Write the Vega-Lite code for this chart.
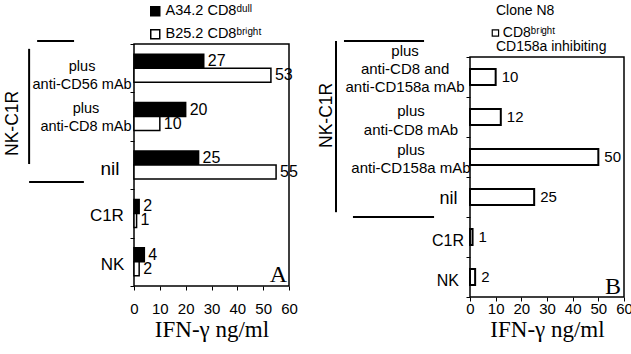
{
  "$schema": "https://vega.github.io/schema/vega-lite/v6.json",
  "background": "white",
  "padding": {"left": 2, "top": 3, "right": 0, "bottom": 0},
  "spacing": 19,
  "config": {
    "font": "Liberation Sans",
    "view": {"stroke": "black", "strokeWidth": 1.5},
    "axis": {"domain": false, "grid": false, "tickColor": "black", "labelColor": "black", "titleColor": "black", "labelFont": "Liberation Sans"},
    "text": {"color": "black", "font": "Liberation Sans"}
  },
  "datasets": {
    "a": [
      {"cond": "plus\nanti-CD56 mAb", "line": "A34.2 CD8ᵈᵘˡˡ", "ifng": 27},
      {"cond": "plus\nanti-CD56 mAb", "line": "B25.2 CD8ᵇʳⁱᵍʰᵗ", "ifng": 53},
      {"cond": "plus\nanti-CD8 mAb", "line": "A34.2 CD8ᵈᵘˡˡ", "ifng": 20},
      {"cond": "plus\nanti-CD8 mAb", "line": "B25.2 CD8ᵇʳⁱᵍʰᵗ", "ifng": 10},
      {"cond": "nil", "line": "A34.2 CD8ᵈᵘˡˡ", "ifng": 25},
      {"cond": "nil", "line": "B25.2 CD8ᵇʳⁱᵍʰᵗ", "ifng": 55},
      {"cond": "C1R", "line": "A34.2 CD8ᵈᵘˡˡ", "ifng": 2},
      {"cond": "C1R", "line": "B25.2 CD8ᵇʳⁱᵍʰᵗ", "ifng": 1},
      {"cond": "NK", "line": "A34.2 CD8ᵈᵘˡˡ", "ifng": 4},
      {"cond": "NK", "line": "B25.2 CD8ᵇʳⁱᵍʰᵗ", "ifng": 2}
    ],
    "b": [
      {"cond": "plus\nanti-CD8 and\nanti-CD158a mAb", "ifng": 10},
      {"cond": "plus\nanti-CD8 mAb", "ifng": 12},
      {"cond": "plus\nanti-CD158a mAb", "ifng": 50},
      {"cond": "nil", "ifng": 25},
      {"cond": "C1R", "ifng": 1},
      {"cond": "NK", "ifng": 2}
    ]
  },
  "hconcat": [
    {
      "width": 155,
      "height": 242,
      "resolve": {"scale": {"y": "independent", "x": "independent"}},
      "layer": [
        {
          "data": {"name": "a"},
          "encoding": {
            "y": {
              "field": "cond", "type": "nominal",
              "sort": ["plus\nanti-CD56 mAb", "plus\nanti-CD8 mAb", "nil", "C1R", "NK"],
              "scale": {"paddingInner": 0, "paddingOuter": 0},
              "axis": {"title": null, "tickBand": "extent", "tickSize": 4, "labels": false}
            },
            "x": {
              "field": "ifng", "type": "quantitative",
              "scale": {"domain": [0, 60]},
              "axis": {"values": [0, 10, 20, 30, 40, 50, 60], "tickSize": 4, "labelFontSize": 15, "labelPadding": 11, "labelFlush": false, "labelOverlap": false,
                       "title": "IFN-γ ng/ml", "titleFont": "Liberation Serif", "titleFontSize": 23, "titleFontWeight": "normal", "titlePadding": 2}
            },
            "yOffset": {"field": "line", "type": "nominal", "sort": ["A34.2 CD8ᵈᵘˡˡ", "B25.2 CD8ᵇʳⁱᵍʰᵗ"], "scale": {"paddingInner": 0, "paddingOuter": 0.73}}
          },
          "layer": [
            {
              "mark": {"type": "bar", "stroke": "black", "strokeWidth": 1.5},
              "encoding": {
                "fill": {
                  "field": "line", "type": "nominal",
                  "scale": {"domain": ["A34.2 CD8ᵈᵘˡˡ", "B25.2 CD8ᵇʳⁱᵍʰᵗ"], "range": ["black", "white"]},
                  "legend": {"title": null, "orient": "none", "legendX": 14, "legendY": -40, "direction": "vertical",
                             "symbolType": "square", "symbolSize": 81, "symbolStrokeColor": "black", "symbolStrokeWidth": 1.5,
                             "labelFontSize": 14.5, "labelFont": "Liberation Sans", "labelColor": "black", "rowPadding": 7, "labelOffset": 3, "padding": 0}
                }
              }
            },
            {
              "mark": {"type": "text", "align": "left", "baseline": "middle", "dx": 4, "fontSize": 16},
              "encoding": {"text": {"field": "ifng"}}
            }
          ]
        },
        {
          "data": {"name": "a"},
          "transform": [{"filter": "indexof(datum.line, 'A34') == 0"}],
          "encoding": {
            "y": {
              "field": "cond", "type": "nominal",
              "sort": ["plus\nanti-CD56 mAb", "plus\nanti-CD8 mAb", "nil", "C1R", "NK"],
              "scale": {"domain": ["plus\nanti-CD56 mAb", "plus\nanti-CD8 mAb", "nil", "C1R", "NK"], "paddingInner": 0, "paddingOuter": 0},
              "axis": null
            },
            "text": {"field": "cond"}
          },
          "layer": [
            {
              "transform": [{"filter": "indexof(datum.cond, 'CD56') >= 0"}],
              "mark": {"type": "text", "align": "center", "baseline": "middle", "fontSize": 14.5, "lineBreak": "\n", "lineHeight": 18, "dy": -1},
              "encoding": {"x": {"datum": -20.1, "scale": {"domain": [0, 60]}, "axis": null}}
            },
            {
              "transform": [{"filter": "indexof(datum.cond, 'anti-CD8') >= 0"}],
              "mark": {"type": "text", "align": "center", "baseline": "middle", "fontSize": 14.5, "lineBreak": "\n", "lineHeight": 18, "dy": -8},
              "encoding": {"x": {"datum": -18.6, "scale": {"domain": [0, 60]}, "axis": null}}
            },
            {
              "transform": [{"filter": "datum.cond == 'nil'"}],
              "mark": {"type": "text", "align": "center", "baseline": "middle", "fontSize": 19, "dy": 4},
              "encoding": {"x": {"datum": -9.3, "scale": {"domain": [0, 60]}, "axis": null}}
            },
            {
              "transform": [{"filter": "datum.cond == 'C1R'"}],
              "mark": {"type": "text", "align": "center", "baseline": "middle", "fontSize": 17, "dy": 3},
              "encoding": {"x": {"datum": -10.5, "scale": {"domain": [0, 60]}, "axis": null}}
            },
            {
              "transform": [{"filter": "datum.cond == 'NK'"}],
              "mark": {"type": "text", "align": "center", "baseline": "middle", "fontSize": 17, "dy": 3},
              "encoding": {"x": {"datum": -8.3, "scale": {"domain": [0, 60]}, "axis": null}}
            }
          ]
        },
        {
          "data": {"values": [{}]},
          "layer": [
            {"mark": {"type": "rule", "stroke": "black", "strokeWidth": 2},
             "encoding": {"x": {"datum": -37.5, "scale": {"domain": [0, 60]}, "axis": null}, "x2": {"datum": -23.2},
                          "y": {"datum": -0.06, "type": "quantitative", "scale": {"domain": [0, 5], "reverse": true}, "axis": null}}},
            {"mark": {"type": "rule", "stroke": "black", "strokeWidth": 2},
             "encoding": {"x": {"datum": -40.6, "scale": {"domain": [0, 60]}, "axis": null},
                          "y": {"datum": 0.1, "type": "quantitative", "scale": {"domain": [0, 5], "reverse": true}, "axis": null}, "y2": {"datum": 2.48}}},
            {"mark": {"type": "rule", "stroke": "black", "strokeWidth": 2},
             "encoding": {"x": {"datum": -40.6, "scale": {"domain": [0, 60]}, "axis": null}, "x2": {"datum": -19.4},
                          "y": {"datum": 2.85, "type": "quantitative", "scale": {"domain": [0, 5], "reverse": true}, "axis": null}}},
            {"mark": {"type": "text", "angle": 270, "align": "center", "baseline": "middle", "fontSize": 17.5},
             "encoding": {"x": {"datum": -47, "scale": {"domain": [0, 60]}, "axis": null},
                          "y": {"datum": 1.64, "type": "quantitative", "scale": {"domain": [0, 5], "reverse": true}, "axis": null}, "text": {"value": "NK-C1R"}}},
            {"mark": {"type": "text", "align": "right", "baseline": "alphabetic", "dx": -2, "dy": -4, "fontSize": 24, "font": "Liberation Serif"},
             "encoding": {"x": {"datum": 60, "scale": {"domain": [0, 60]}, "axis": null},
                          "y": {"datum": 5, "type": "quantitative", "scale": {"domain": [0, 5], "reverse": true}, "axis": null}, "text": {"value": "A"}}}
          ]
        }
      ]
    },
    {
      "width": 154,
      "height": 253,
      "view": {"stroke": null},
      "resolve": {"scale": {"y": "independent", "x": "independent"}},
      "layer": [
        {
          "data": {"name": "b"},
          "encoding": {
            "y": {
              "field": "cond", "type": "nominal",
              "sort": ["plus\nanti-CD8 and\nanti-CD158a mAb", "plus\nanti-CD8 mAb", "plus\nanti-CD158a mAb", "nil", "C1R", "NK"],
              "scale": {"paddingInner": 0, "paddingOuter": 0.1625, "align": 1},
              "axis": {"title": null, "tickBand": "extent", "tickSize": 4, "labels": false}
            },
            "x": {
              "field": "ifng", "type": "quantitative",
              "scale": {"domain": [0, 60]},
              "axis": {"values": [0, 10, 20, 30, 40, 50, 60], "tickSize": 4, "labelFontSize": 15, "labelPadding": 0, "labelFlush": false, "labelOverlap": false,
                       "title": "IFN-γ ng/ml", "titleFont": "Liberation Serif", "titleFontSize": 23, "titleFontWeight": "normal", "titlePadding": 2}
            }
          },
          "layer": [
            {
              "mark": {"type": "bar", "fill": "white", "stroke": "black", "strokeWidth": 2, "height": {"band": 0.4}}
            },
            {
              "mark": {"type": "text", "align": "left", "baseline": "middle", "dx": 6, "fontSize": 15},
              "encoding": {"text": {"field": "ifng"}}
            },
            {
              "transform": [{"filter": "indexof(datum.cond, ' and') >= 0"}],
              "mark": {"type": "text", "align": "center", "baseline": "middle", "fontSize": 15, "lineBreak": "\n", "lineHeight": 18, "dy": -26.5},
              "encoding": {"text": {"field": "cond"},
                "x": {"datum": -25.3, "type": "quantitative", "scale": {"domain": [0, 60]},
                      "axis": {"values": [0, 10, 20, 30, 40, 50, 60], "tickSize": 4, "labelFontSize": 15, "labelPadding": 0, "labelFlush": false, "labelOverlap": false,
                               "title": "IFN-γ ng/ml", "titleFont": "Liberation Serif", "titleFontSize": 23, "titleFontWeight": "normal", "titlePadding": 2}}}
            },
            {
              "transform": [{"filter": "datum.cond == 'plus\\nanti-CD8 mAb'"}],
              "mark": {"type": "text", "align": "center", "baseline": "middle", "fontSize": 15, "lineBreak": "\n", "lineHeight": 19, "dy": -6},
              "encoding": {"text": {"field": "cond"},
                "x": {"datum": -23, "type": "quantitative", "scale": {"domain": [0, 60]},
                      "axis": {"values": [0, 10, 20, 30, 40, 50, 60], "tickSize": 4, "labelFontSize": 15, "labelPadding": 0, "labelFlush": false, "labelOverlap": false,
                               "title": "IFN-γ ng/ml", "titleFont": "Liberation Serif", "titleFontSize": 23, "titleFontWeight": "normal", "titlePadding": 2}}}
            },
            {
              "transform": [{"filter": "datum.cond == 'plus\\nanti-CD158a mAb'"}],
              "mark": {"type": "text", "align": "center", "baseline": "middle", "fontSize": 15, "lineBreak": "\n", "lineHeight": 18, "dy": -7.5},
              "encoding": {"text": {"field": "cond"},
                "x": {"datum": -23, "type": "quantitative", "scale": {"domain": [0, 60]},
                      "axis": {"values": [0, 10, 20, 30, 40, 50, 60], "tickSize": 4, "labelFontSize": 15, "labelPadding": 0, "labelFlush": false, "labelOverlap": false,
                               "title": "IFN-γ ng/ml", "titleFont": "Liberation Serif", "titleFontSize": 23, "titleFontWeight": "normal", "titlePadding": 2}}}
            },
            {
              "transform": [{"filter": "datum.cond == 'nil'"}],
              "mark": {"type": "text", "align": "center", "baseline": "middle", "fontSize": 18, "dy": 2},
              "encoding": {"text": {"field": "cond"},
                "x": {"datum": -8.4, "type": "quantitative", "scale": {"domain": [0, 60]},
                      "axis": {"values": [0, 10, 20, 30, 40, 50, 60], "tickSize": 4, "labelFontSize": 15, "labelPadding": 0, "labelFlush": false, "labelOverlap": false,
                               "title": "IFN-γ ng/ml", "titleFont": "Liberation Serif", "titleFontSize": 23, "titleFontWeight": "normal", "titlePadding": 2}}}
            },
            {
              "transform": [{"filter": "datum.cond == 'C1R' || datum.cond == 'NK'"}],
              "mark": {"type": "text", "align": "center", "baseline": "middle", "fontSize": 16, "dy": 4},
              "encoding": {"text": {"field": "cond"},
                "x": {"datum": -8.6, "type": "quantitative", "scale": {"domain": [0, 60]},
                      "axis": {"values": [0, 10, 20, 30, 40, 50, 60], "tickSize": 4, "labelFontSize": 15, "labelPadding": 0, "labelFlush": false, "labelOverlap": false,
                               "title": "IFN-γ ng/ml", "titleFont": "Liberation Serif", "titleFontSize": 23, "titleFontWeight": "normal", "titlePadding": 2}}}
            }
          ]
        },
        {
          "data": {"values": [{}]},
          "layer": [
            {"mark": {"type": "rect", "fill": "white", "fillOpacity": 0, "stroke": "black", "strokeWidth": 1.5},
             "encoding": {"x": {"datum": 0, "scale": {"domain": [0, 60]}, "axis": null}, "x2": {"datum": 60},
                          "y": {"datum": 0, "type": "quantitative", "scale": {"domain": [-0.325, 6], "reverse": true}, "axis": null}, "y2": {"datum": 6}}},
            {"mark": {"type": "rule", "stroke": "black", "strokeWidth": 2},
             "encoding": {"x": {"datum": -49.1, "scale": {"domain": [0, 60]}, "axis": null}, "x2": {"datum": -17.9},
                          "y": {"datum": -0.4, "type": "quantitative", "scale": {"domain": [-0.325, 6], "reverse": true}, "axis": null}}},
            {"mark": {"type": "rule", "stroke": "black", "strokeWidth": 2},
             "encoding": {"x": {"datum": -52.2, "scale": {"domain": [0, 60]}, "axis": null},
                          "y": {"datum": -0.4, "type": "quantitative", "scale": {"domain": [-0.325, 6], "reverse": true}, "axis": null}, "y2": {"datum": 3.88}}},
            {"mark": {"type": "rule", "stroke": "black", "strokeWidth": 2},
             "encoding": {"x": {"datum": -45.6, "scale": {"domain": [0, 60]}, "axis": null}, "x2": {"datum": -14},
                          "y": {"datum": 4, "type": "quantitative", "scale": {"domain": [-0.325, 6], "reverse": true}, "axis": null}}},
            {"mark": {"type": "text", "angle": 270, "align": "center", "baseline": "middle", "fontSize": 17.5},
             "encoding": {"x": {"datum": -55.7, "scale": {"domain": [0, 60]}, "axis": null},
                          "y": {"datum": 1.46, "type": "quantitative", "scale": {"domain": [-0.325, 6], "reverse": true}, "axis": null}, "text": {"value": "NK-C1R"}}},
            {"mark": {"type": "text", "align": "left", "baseline": "middle", "fontSize": 14},
             "encoding": {"x": {"datum": 10.1, "scale": {"domain": [0, 60]}, "axis": null},
                          "y": {"datum": -1.16, "type": "quantitative", "scale": {"domain": [-0.325, 6], "reverse": true}, "axis": null}, "text": {"value": "Clone N8"}}},
            {"mark": {"type": "point", "shape": "square", "filled": true, "fill": "white", "stroke": "black", "strokeWidth": 1.2, "size": 40, "opacity": 1},
             "encoding": {"x": {"datum": 9.9, "scale": {"domain": [0, 60]}, "axis": null},
                          "y": {"datum": -0.6, "type": "quantitative", "scale": {"domain": [-0.325, 6], "reverse": true}, "axis": null}}},
            {"mark": {"type": "text", "align": "left", "baseline": "middle", "fontSize": 14},
             "encoding": {"x": {"datum": 12.8, "scale": {"domain": [0, 60]}, "axis": null},
                          "y": {"datum": -0.6, "type": "quantitative", "scale": {"domain": [-0.325, 6], "reverse": true}, "axis": null}, "text": {"value": "CD8ᵇʳⁱᵍʰᵗ"}}},
            {"mark": {"type": "text", "align": "left", "baseline": "middle", "fontSize": 14},
             "encoding": {"x": {"datum": 10.1, "scale": {"domain": [0, 60]}, "axis": null},
                          "y": {"datum": -0.25, "type": "quantitative", "scale": {"domain": [-0.325, 6], "reverse": true}, "axis": null}, "text": {"value": "CD158a inhibiting"}}},
            {"mark": {"type": "text", "align": "right", "baseline": "alphabetic", "dx": -3, "dy": -3, "fontSize": 24, "font": "Liberation Serif"},
             "encoding": {"x": {"datum": 60, "scale": {"domain": [0, 60]}, "axis": null},
                          "y": {"datum": 6, "type": "quantitative", "scale": {"domain": [-0.325, 6], "reverse": true}, "axis": null}, "text": {"value": "B"}}}
          ]
        }
      ]
    }
  ]
}
